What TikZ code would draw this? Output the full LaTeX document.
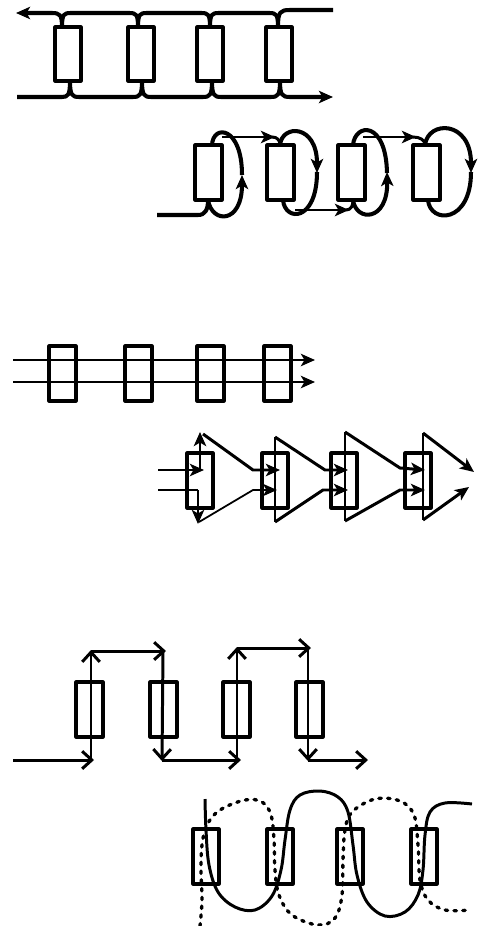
\documentclass[tikz,border=0pt]{standalone}
\usepackage{tikz}
\usetikzlibrary{arrows.meta}

\begin{document}
\begin{tikzpicture}[x=0.02cm,y=-0.02cm,line join=round,
    heavy/.style={line width=2.3pt},
    wire/.style={line width=1.7pt},
    fine/.style={line width=1pt},
    boxr/.style={draw,line width=1.8pt},
    arr/.style={-{Stealth[length=8pt,width=7pt,inset=2pt]}},
    barb/.style={-{Straight Barb[length=5.5pt,width=10pt]}},
    dots/.style={line width=1.9pt,line cap=round,dash pattern=on 1.4pt off 3.6pt}]
  \useasboundingbox (0,0) rectangle (490,926);

  % row 1: two rails forking at each block
  \foreach \bx in {55,128,197,266}
    \draw[boxr] (\bx,27) rectangle (\bx+26,81);
  \draw[heavy,arr] (62,27) .. controls (62,15) and (60,13) .. (52,13) -- (16,13);
  \foreach \a/\b in {62/138,138/210,210/278}{
    \draw[heavy] (\a,27) .. controls (\a,14) and (\a+2,13) .. (\a+9,13)
      -- (\b-9,13) .. controls (\b-2,13) and (\b,14) .. (\b,27);
  }
  \draw[heavy] (278,27) .. controls (278,12) and (280,10) .. (290,10) -- (333,10);
  \draw[heavy] (17,97) -- (62,97) .. controls (68,97) and (70,95) .. (70,81);
  \foreach \a/\b in {70/142,142/212,212/280}{
    \draw[heavy] (\a,81) .. controls (\a,95) and (\a+2,97) .. (\a+9,97)
      -- (\b-9,97) .. controls (\b-2,97) and (\b,95) .. (\b,81);
  }
  \draw[heavy,arr] (280,81) .. controls (280,95) and (282,97) .. (290,97) -- (333,97);

  % row 2: loops round each block
  \foreach \bx in {195,267,338,413}
    \draw[boxr] (\bx,145) rectangle (\bx+27,200);
  \draw[heavy] (157,215) -- (198,215) .. controls (205,215) and (208,210) .. (208,200);
  \draw[heavy,arr] (208,200) .. controls (212,224) and (242,224) .. (242,175);
  \draw[heavy] (242,175) .. controls (242,126) and (213,124) .. (212,145);
  \draw[wire,arr] (222,137) -- (275,137);
  \draw[wire] (272,137) .. controls (277,137) and (280,140) .. (280,145);
  \draw[heavy,arr] (280,145) .. controls (282,124) and (317,124) .. (317,173);
  \draw[heavy] (317,172) .. controls (317,222) and (285,222) .. (283,200);
  \draw[wire,arr] (295,210) -- (349,210);
  \draw[wire] (346,210) .. controls (351,210) and (353,206) .. (353,200);
  \draw[heavy,arr] (353,200) .. controls (356,222) and (388,222) .. (387,172);
  \draw[heavy] (387,173) .. controls (386,120) and (355,123) .. (353,145);
  \draw[wire,arr] (363,137) -- (416,137);
  \draw[wire] (413,137) .. controls (420,137) and (425,140) .. (425,145);
  \draw[heavy,arr] (425,145) .. controls (428,120) and (471,120) .. (471,173);
  \draw[heavy] (471,172) .. controls (471,224) and (430,224) .. (428,200);

  % row 3: two straight lines through
  \foreach \bx in {49,125,197,264}
    \draw[boxr] (\bx,346) rectangle (\bx+27,401);
  \foreach \ly in {360,382}
    \draw[wire,arr] (13,\ly) -- (315,\ly);

  % row 4: zigzag between the blocks
  \foreach \bx in {187,262,331,405}
    \draw[boxr] (\bx,453) rectangle (\bx+26,508);
  \draw[wire,arr] (158,470) -- (204,470);
  \draw[wire] (158,490) -- (198,490);
  \draw[wire,arr] (200,470) -- (200,432);
  \draw[wire,arr] (198,490) -- (198,524);
  \draw[wire,arr] (203,434) -- (253,470) -- (280,470);
  \draw[fine,arr] (199,522) -- (253,490) -- (277,490);
  \draw[wire] (275,437) -- (275,522);
  \draw[wire,arr] (275,437) -- (325,470) -- (348,470);
  \draw[wire,arr] (275,522) -- (323,490) -- (348,490);
  \draw[wire] (345,432) -- (345,521);
  \draw[wire,arr] (345,432) -- (400,468) -- (425,470);
  \draw[wire,arr] (345,521) -- (400,490) -- (425,490);
  \draw[wire] (423,433) -- (423,520);
  \draw[wire,arr] (423,433) -- (474,472);
  \draw[wire,arr] (423,520) -- (469,487);

  % row 5: square wave
  \foreach \bx in {76,150,223,296}
    \draw[boxr] (\bx,682) rectangle (\bx+27,737);
  \draw[wire,barb] (13,760) -- (94,760);
  \draw[wire,barb] (91,760) -- (91,650);
  \draw[wire,barb] (91,651) -- (166,651);
  \draw[wire,barb] (163,651) -- (162,761);
  \draw[wire,barb] (162,760) -- (241,760);
  \draw[wire,barb] (237,760) -- (237,647);
  \draw[wire,barb] (237,648) -- (311,648);
  \draw[wire,barb] (308,648) -- (308,761);
  \draw[wire,barb] (308,760) -- (368,760);

  % row 6: solid and dotted waves
  \foreach \bx in {193,267,337,411}
    \draw[boxr] (\bx,829) rectangle (\bx+26,884);
  \draw[wire] plot[smooth,tension=0.6] coordinates {(205,799) (206,830) (209,865)
    (218,892) (235,907) (255,910) (272,896) (281,870) (285,840) (290,810) (300,795)
    (320,791) (338,797) (348,812) (353,845) (357,875) (367,902) (385,916) (405,912)
    (418,895) (423,870) (425,835) (430,812) (445,803) (472,804)};
  \draw[dots] plot[smooth,tension=0.6] coordinates {(200,926) (202,900) (201,870)
    (202,845) (207,825) (220,810) (245,800) (262,802) (271,815) (274,840) (275,870)
    (279,895) (292,915) (318,925) (335,918) (342,895) (343,860) (345,830) (352,812)
    (375,799) (400,801) (414,815) (418,845) (420,880) (428,900) (445,910) (470,910)};
\end{tikzpicture}
\end{document}
